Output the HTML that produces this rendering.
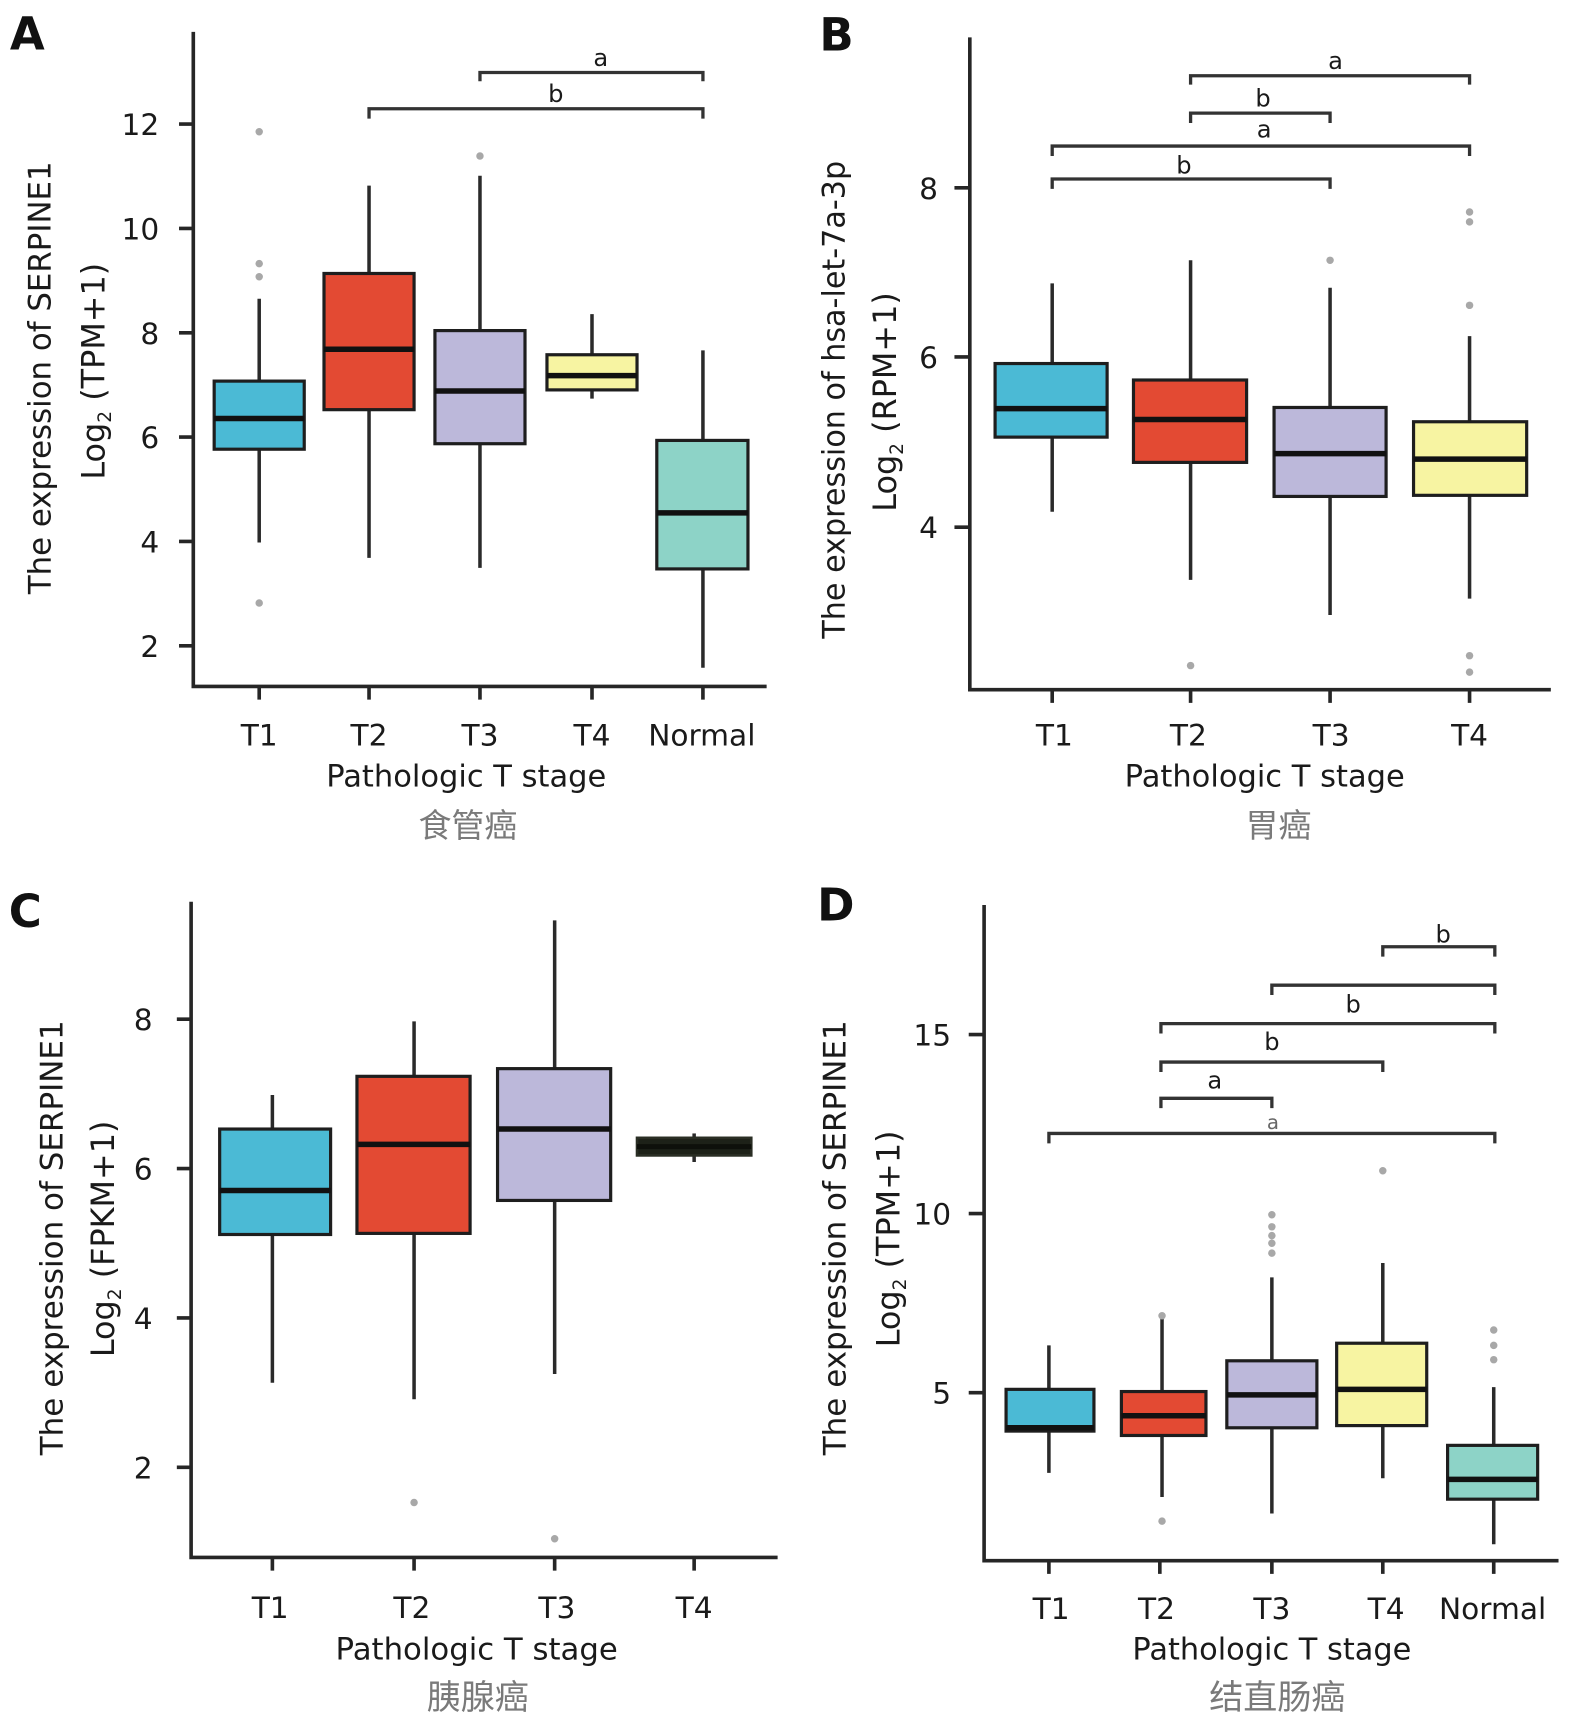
<!DOCTYPE html>
<html><head><meta charset="utf-8"><style>
html,body{margin:0;padding:0;background:#fff;}
svg{display:block;}
text{font-family:"DejaVu Sans","Liberation Sans",sans-serif;fill:#1a1a1a;}
.cn{font-family:"Liberation Sans","Noto Sans CJK SC",sans-serif;fill:#7a7a7a;}
.ax{stroke:#262626;stroke-width:3.3;fill:none;}
.wk{stroke:#2a2a2a;stroke-width:3.2;fill:none;}
.bx{stroke:#1e1e1e;stroke-width:2.9;}
.md{stroke:#111;stroke-width:5;}
.br{stroke:#333;stroke-width:3;fill:none;}
.o{fill:#a8a8a8;}
.tk{font-size:27px;}
.bl{font-size:22px;}
</style></head><body>
<svg width="1575" height="1724" viewBox="0 0 1434 1569.7" preserveAspectRatio="none" xmlns="http://www.w3.org/2000/svg">
<rect x="0" y="0" width="1434" height="1569.7" fill="#fff"/>

<!-- ================= PANEL A ================= -->
<text x="9" y="45" font-size="41" font-weight="bold" style="fill:#111">A</text>
<path class="ax" d="M176 29V625H698"/>
<path class="ax" d="M163 113H176M163 208H176M163 303H176M163 398H176M163 493H176M163 588H176"/>
<text class="tk" x="145" y="123" text-anchor="end">12</text>
<text class="tk" x="145" y="218" text-anchor="end">10</text>
<text class="tk" x="145" y="313" text-anchor="end">8</text>
<text class="tk" x="145" y="408" text-anchor="end">6</text>
<text class="tk" x="145" y="503" text-anchor="end">4</text>
<text class="tk" x="145" y="598" text-anchor="end">2</text>
<path class="ax" d="M236 625V637M336 625V637M437 625V637M539 625V637M640 625V637"/>
<text class="tk" x="236" y="679" text-anchor="middle">T1</text>
<text class="tk" x="336" y="679" text-anchor="middle">T2</text>
<text class="tk" x="437" y="679" text-anchor="middle">T3</text>
<text class="tk" x="539" y="679" text-anchor="middle">T4</text>
<text class="tk" x="639" y="679" text-anchor="middle">Normal</text>
<text x="424.5" y="716" font-size="27.5" text-anchor="middle" textLength="255" lengthAdjust="spacingAndGlyphs">Pathologic T stage</text>
<text class="cn" x="426" y="762" font-size="30" text-anchor="middle">食管癌</text>
<text transform="translate(46,344) rotate(-90)" font-size="28" text-anchor="middle" textLength="394" lengthAdjust="spacingAndGlyphs">The expression of SERPINE1</text>
<text transform="translate(95,338) rotate(-90)" font-size="29" text-anchor="middle">Log<tspan font-size="17" dy="6">2</tspan><tspan dy="-6"> (TPM+1)</tspan></text>

<!-- A boxes -->
<path class="wk" d="M236 272V347M236 409V494"/>
<rect class="bx" x="195" y="347" width="82" height="62" fill="#4bbad5"/>
<path class="md" d="M195 381H277"/>
<circle class="o" cx="236" cy="120" r="3.4"/><circle class="o" cx="236" cy="240" r="3.4"/><circle class="o" cx="236" cy="252" r="3.4"/><circle class="o" cx="236" cy="549" r="3.4"/>

<path class="wk" d="M336 169V249M336 373V508"/>
<rect class="bx" x="295" y="249" width="82" height="124" fill="#e34a33"/>
<path class="md" d="M295 318H377"/>

<path class="wk" d="M437 160V301M437 404V517"/>
<rect class="bx" x="396" y="301" width="82" height="103" fill="#bcb8da"/>
<path class="md" d="M396 356H478"/>
<circle class="o" cx="437" cy="142" r="3.4"/>

<path class="wk" d="M539 286V323M539 355V363"/>
<rect class="bx" x="498" y="323" width="82" height="32" fill="#f7f4a2"/>
<path class="md" d="M498 342H580"/>

<path class="wk" d="M640 319V401M640 518V608"/>
<rect class="bx" x="598" y="401" width="83" height="117" fill="#8dd3c7"/>
<path class="md" d="M598 467H681"/>

<path class="br" d="M437 74V66H640V74"/>
<text class="bl" x="547" y="60" text-anchor="middle">a</text>
<path class="br" d="M336 108V99H640V108"/>
<text class="bl" x="506" y="93" text-anchor="middle">b</text>

<!-- ================= PANEL B ================= -->
<text x="746" y="46" font-size="41" font-weight="bold" style="fill:#111">B</text>
<path class="ax" d="M883 34V628H1412"/>
<path class="ax" d="M869 171H883M869 325H883M869 480H883"/>
<text class="tk" x="854" y="181" text-anchor="end">8</text>
<text class="tk" x="854" y="335" text-anchor="end">6</text>
<text class="tk" x="854" y="490" text-anchor="end">4</text>
<path class="ax" d="M958 628V640M1084 628V640M1211 628V640M1338 628V640"/>
<text class="tk" x="960" y="679" text-anchor="middle">T1</text>
<text class="tk" x="1082" y="679" text-anchor="middle">T2</text>
<text class="tk" x="1212" y="679" text-anchor="middle">T3</text>
<text class="tk" x="1338" y="679" text-anchor="middle">T4</text>
<text x="1151.5" y="716" font-size="27.5" text-anchor="middle" textLength="255" lengthAdjust="spacingAndGlyphs">Pathologic T stage</text>
<text class="cn" x="1164" y="762" font-size="30" text-anchor="middle">胃癌</text>
<text transform="translate(769,364) rotate(-90)" font-size="28" text-anchor="middle" textLength="435" lengthAdjust="spacingAndGlyphs">The expression of hsa-let-7a-3p</text>
<text transform="translate(816,366) rotate(-90)" font-size="29" text-anchor="middle">Log<tspan font-size="17" dy="6">2</tspan><tspan dy="-6"> (RPM+1)</tspan></text>

<path class="wk" d="M958 258V331M958 398V466"/>
<rect class="bx" x="906" y="331" width="102" height="67" fill="#4bbad5"/>
<path class="md" d="M906 372H1008"/>

<path class="wk" d="M1084 237V346M1084 421V528"/>
<rect class="bx" x="1032" y="346" width="103" height="75" fill="#e34a33"/>
<path class="md" d="M1032 382H1135"/>
<circle class="o" cx="1084" cy="606" r="3.4"/>

<path class="wk" d="M1211 262V371M1211 452V560"/>
<rect class="bx" x="1160" y="371" width="102" height="81" fill="#bcb8da"/>
<path class="md" d="M1160 413H1262"/>
<circle class="o" cx="1211" cy="237" r="3.4"/>

<path class="wk" d="M1338 306V384M1338 451V545"/>
<rect class="bx" x="1287" y="384" width="103" height="67" fill="#f7f4a2"/>
<path class="md" d="M1287 418H1390"/>
<circle class="o" cx="1338" cy="193" r="3.4"/><circle class="o" cx="1338" cy="202" r="3.4"/><circle class="o" cx="1338" cy="278" r="3.4"/><circle class="o" cx="1338" cy="597" r="3.4"/><circle class="o" cx="1338" cy="612" r="3.4"/>

<path class="br" d="M1084 77V69H1338V77"/>
<text class="bl" x="1216" y="63" text-anchor="middle">a</text>
<path class="br" d="M1084 112V103H1211V112"/>
<text class="bl" x="1150" y="97" text-anchor="middle">b</text>
<path class="br" d="M958 142V133H1338V142"/>
<text class="bl" x="1151" y="125" text-anchor="middle">a</text>
<path class="br" d="M958 172V163H1211V172"/>
<text class="bl" x="1078" y="158" text-anchor="middle">b</text>

<!-- ================= PANEL C ================= -->
<text x="8" y="844" font-size="41" font-weight="bold" style="fill:#111">C</text>
<path class="ax" d="M174 821V1418H708"/>
<path class="ax" d="M161 928H174M161 1064H174M161 1200H174M161 1336H174"/>
<text class="tk" x="139" y="938" text-anchor="end">8</text>
<text class="tk" x="139" y="1074" text-anchor="end">6</text>
<text class="tk" x="139" y="1210" text-anchor="end">4</text>
<text class="tk" x="139" y="1346" text-anchor="end">2</text>
<path class="ax" d="M248 1418V1430M377 1418V1430M505 1418V1430M632 1418V1430"/>
<text class="tk" x="246" y="1473" text-anchor="middle">T1</text>
<text class="tk" x="375" y="1473" text-anchor="middle">T2</text>
<text class="tk" x="507" y="1473" text-anchor="middle">T3</text>
<text class="tk" x="632" y="1473" text-anchor="middle">T4</text>
<text x="434" y="1511" font-size="27.5" text-anchor="middle" textLength="257" lengthAdjust="spacingAndGlyphs">Pathologic T stage</text>
<text class="cn" x="435" y="1556" font-size="31" text-anchor="middle">胰腺癌</text>
<text transform="translate(57,1127) rotate(-90)" font-size="28" text-anchor="middle" textLength="396" lengthAdjust="spacingAndGlyphs">The expression of SERPINE1</text>
<text transform="translate(104,1128) rotate(-90)" font-size="29" text-anchor="middle">Log<tspan font-size="17" dy="6">2</tspan><tspan dy="-6"> (FPKM+1)</tspan></text>

<path class="wk" d="M248 997V1028M248 1124V1259"/>
<rect class="bx" x="200" y="1028" width="101" height="96" fill="#4bbad5"/>
<path class="md" d="M200 1084H301"/>

<path class="wk" d="M377 930V980M377 1123V1274"/>
<rect class="bx" x="325" y="980" width="103" height="143" fill="#e34a33"/>
<path class="md" d="M325 1042H428"/>
<circle class="o" cx="377" cy="1368" r="3.4"/>

<path class="wk" d="M505 838V973M505 1093V1251"/>
<rect class="bx" x="453" y="973" width="103" height="120" fill="#bcb8da"/>
<path class="md" d="M453 1028H556"/>
<circle class="o" cx="505" cy="1401" r="3.4"/>

<path class="wk" d="M632 1032V1058"/>
<rect x="580" y="1036" width="104" height="16" fill="#1d2118" stroke="#2a2e24" stroke-width="2.4"/>
<path d="M580 1044H684" stroke="#0e100b" stroke-width="4.5"/>

<!-- ================= PANEL D ================= -->
<text x="744" y="838" font-size="41" font-weight="bold" style="fill:#111">D</text>
<path class="ax" d="M896 824V1421H1419"/>
<path class="ax" d="M882 942H896M882 1105H896M882 1268H896"/>
<text class="tk" x="866" y="952" text-anchor="end">15</text>
<text class="tk" x="866" y="1115" text-anchor="end">10</text>
<text class="tk" x="866" y="1278" text-anchor="end">5</text>
<path class="ax" d="M955 1421V1433M1056 1421V1433M1158 1421V1433M1259 1421V1433M1360 1421V1433"/>
<text class="tk" x="957" y="1474" text-anchor="middle">T1</text>
<text class="tk" x="1053" y="1474" text-anchor="middle">T2</text>
<text class="tk" x="1158" y="1474" text-anchor="middle">T3</text>
<text class="tk" x="1262" y="1474" text-anchor="middle">T4</text>
<text class="tk" x="1359" y="1474" text-anchor="middle">Normal</text>
<text x="1158" y="1511" font-size="27.5" text-anchor="middle" textLength="254" lengthAdjust="spacingAndGlyphs">Pathologic T stage</text>
<text class="cn" x="1163" y="1556" font-size="31" text-anchor="middle">结直肠癌</text>
<text transform="translate(770,1127) rotate(-90)" font-size="28" text-anchor="middle" textLength="396" lengthAdjust="spacingAndGlyphs">The expression of SERPINE1</text>
<text transform="translate(819,1128) rotate(-90)" font-size="29" text-anchor="middle">Log<tspan font-size="17" dy="6">2</tspan><tspan dy="-6"> (TPM+1)</tspan></text>

<path class="wk" d="M955 1225V1265M955 1303V1341"/>
<rect class="bx" x="916" y="1265" width="80" height="38" fill="#4bbad5"/>
<path class="md" d="M916 1300H996"/>

<path class="wk" d="M1058 1198V1267M1058 1307V1363"/>
<rect class="bx" x="1021" y="1267" width="77" height="40" fill="#e34a33"/>
<path class="md" d="M1021 1289H1098"/>
<circle class="o" cx="1058" cy="1198" r="3.4"/><circle class="o" cx="1058" cy="1385" r="3.4"/>

<path class="wk" d="M1158 1163V1239M1158 1300V1378"/>
<rect class="bx" x="1117" y="1239" width="82" height="61" fill="#bcb8da"/>
<path class="md" d="M1117 1270H1199"/>
<circle class="o" cx="1158" cy="1106" r="3.4"/><circle class="o" cx="1158" cy="1117" r="3.4"/><circle class="o" cx="1158" cy="1125" r="3.4"/><circle class="o" cx="1158" cy="1132" r="3.4"/><circle class="o" cx="1158" cy="1141" r="3.4"/>

<path class="wk" d="M1259 1150V1223M1259 1298V1346"/>
<rect class="bx" x="1217" y="1223" width="82" height="75" fill="#f7f4a2"/>
<path class="md" d="M1217 1265H1299"/>
<circle class="o" cx="1259" cy="1066" r="3.4"/>

<path class="wk" d="M1360 1263V1316M1360 1365V1406"/>
<rect class="bx" x="1318" y="1316" width="82" height="49" fill="#8dd3c7"/>
<path class="md" d="M1318 1347H1400"/>
<circle class="o" cx="1360" cy="1211" r="3.4"/><circle class="o" cx="1360" cy="1225" r="3.4"/><circle class="o" cx="1360" cy="1238" r="3.4"/>

<path class="br" d="M1259 871V862H1361V871"/>
<text class="bl" x="1314" y="858" text-anchor="middle">b</text>
<path class="br" d="M1158 906V897H1361V906"/>
<path class="br" d="M1057 941V932H1361V941"/>
<text class="bl" x="1232" y="922" text-anchor="middle">b</text>
<path class="br" d="M1057 976V967H1259V976"/>
<text class="bl" x="1158" y="956" text-anchor="middle">b</text>
<path class="br" d="M1057 1009V1000H1158V1009"/>
<text class="bl" x="1106" y="991" text-anchor="middle">a</text>
<text x="1159" y="1028" font-size="18" text-anchor="middle" style="fill:#666">a</text>
<path class="br" d="M955 1041V1032H1361V1041"/>

</svg>
</body></html>
